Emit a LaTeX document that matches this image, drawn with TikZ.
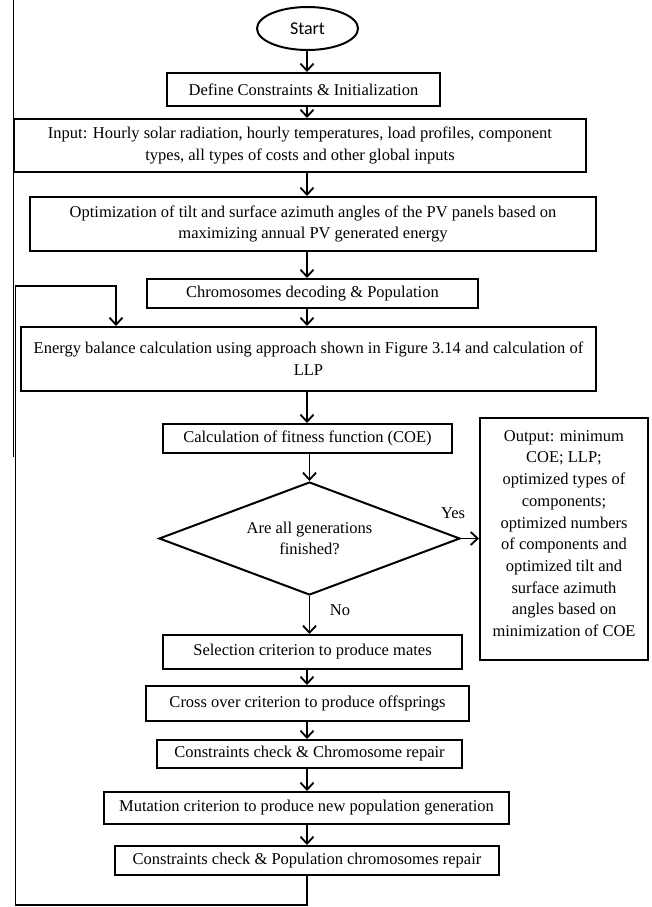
\documentclass[tikz,border=0pt]{standalone}
\usepackage{fontspec}
\setmainfont{Liberation Serif}
\newfontfamily\calibri{Carlito}
\usetikzlibrary{arrows.meta,shapes.geometric}
\begin{document}
\begin{tikzpicture}[x=1pt,y=-1pt,
  box/.style={draw, line width=2pt, inner sep=0pt, align=center, font=\fontsize{16.5}{21.7}\selectfont},
  arr/.style={line width=1.8pt, -{Straight Barb[length=7pt,width=13pt]}},
  plain/.style={line width=1.8pt},
  lbl/.style={font=\fontsize{16.5}{20}\selectfont, inner sep=0pt}]
\useasboundingbox (0,0) rectangle (651,907);
\coordinate (axis) at (307,0);
\coordinate (xloop) at (116,0);
\coordinate (loopB) at (15.5,905);
\coordinate (loopT) at (15.5,286);
\coordinate (strayT) at (13.5,0);
\coordinate (strayB) at (13.5,457);

\node[draw, ellipse, line width=2pt, inner sep=0pt, minimum width=101, minimum height=43, font=\calibri\fontsize{18}{20}\selectfont] (start) at (307.5,28.5) {Start};
\node[box, minimum width=273, minimum height=33] (define) at (303.5,89.5) {Define Constraints \& Initialization};
\node[box, minimum width=572, minimum height=53] (input) at (300,145.5) {Input: Hourly solar radiation, hourly temperatures, load profiles, component\\types, all types of costs and other global inputs};
\node[box, minimum width=566, minimum height=54] (optim) at (313,224) {Optimization of tilt and surface azimuth angles of the PV panels based on\\maximizing annual PV generated energy};
\node[box, minimum width=331, minimum height=29] (chrom) at (312.5,293.5) {Chromosomes decoding \& Population};
\node[box, minimum width=575, minimum height=64] (energy) at (308.5,359) {Energy balance calculation using approach shown in Figure 3.14 and calculation of\\LLP};
\node[box, minimum width=289, minimum height=29] (calc) at (307.5,438.5) {Calculation of fitness function (COE)};
\node[draw, diamond, shape aspect=2.66, line width=2pt, inner sep=0pt, minimum width=301, minimum height=113, align=center, font=\fontsize{16.5}{21.7}\selectfont] (dia) at (309.5,538.5) {Are all generations\\finished?};
\node[box, minimum width=168, minimum height=242] (output) at (564,539) {};
\node[align=center, inner sep=0pt, font=\fontsize{16.5}{21.7}\selectfont] (outtext) at (564,533.5) {Output: minimum\\COE; LLP;\\optimized types of\\components;\\optimized numbers\\of components and\\optimized tilt and\\surface azimuth\\angles based on\\minimization of COE};
\node[box, minimum width=299, minimum height=34] (select) at (312.5,652) {Selection criterion to produce mates};
\node[box, minimum width=323, minimum height=35] (cross) at (307.5,703.5) {Cross over criterion to produce offsprings};
\node[box, minimum width=305, minimum height=28] (cc1) at (309.5,754) {Constraints check \& Chromosome repair};
\node[box, minimum width=405, minimum height=32] (mut) at (306.5,808) {Mutation criterion to produce new population generation};
\node[box, minimum width=384, minimum height=29] (cc2) at (307,860.5) {Constraints check \& Population chromosomes repair};

\node[lbl] (yes) at (453,513) {Yes};
\node[lbl] (no) at (340,610) {No};

\draw[arr] (start.south -| axis) -- (define.north -| axis);
\draw[arr] (define.south -| axis) -- (input.north -| axis);
\draw[arr] (input.south -| axis) -- (optim.north -| axis);
\draw[arr] (optim.south -| axis) -- (chrom.north -| axis);
\draw[arr] (chrom.south -| axis) -- (energy.north -| axis);
\draw[arr] (energy.south -| axis) -- (calc.north -| axis);
\draw[arr] (calc.south -| dia.north) -- (dia.north);
\draw[arr] (dia.east) -- (output.west |- dia.east);
\draw[arr] (dia.south) -- (select.north -| dia.south);
\draw[arr] (select.south -| axis) -- (cross.north -| axis);
\draw[arr] (cross.south -| axis) -- (cc1.north -| axis);
\draw[arr] (cc1.south -| axis) -- (mut.north -| axis);
\draw[arr] (mut.south -| axis) -- (cc2.north -| axis);
\draw[arr] (cc2.south -| axis) -- (axis |- loopB) -- (loopB) -- (loopT) -- (loopT -| xloop) -- (energy.north -| xloop);
\draw[plain] (strayT) -- (strayB);
\end{tikzpicture}
\end{document}
